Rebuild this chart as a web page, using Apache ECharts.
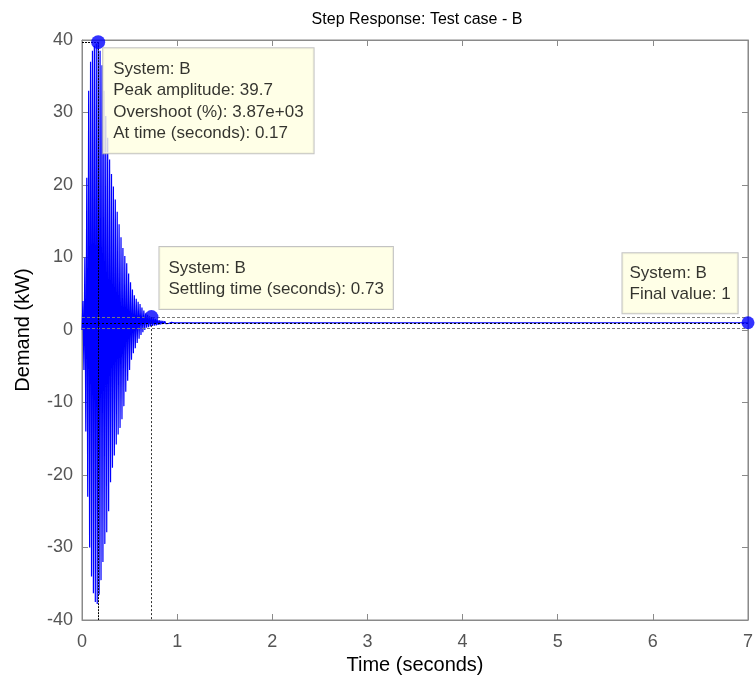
<!DOCTYPE html>
<html><head><meta charset="utf-8">
<script src="https://cdn.jsdelivr.net/npm/echarts@6/dist/echarts.min.js"></script>
<style>html,body{margin:0;padding:0;background:#fff;overflow:hidden}#c{width:756px;height:683px}</style>
</head><body><div id="c"></div>
<script>
const titleText = 'Step Response: Test case - B';
const xName = 'Time (seconds)';
const yName = 'Demand (kW)';
const xTicks = [0, 1, 2, 3, 4, 5, 6, 7];
const yTicks = [-40, -30, -20, -10, 0, 10, 20, 30, 40];
const sampleTime = 0.01;
// sampled response values, one per sample time
const response = [0, 4, -5.5, 10, -14, 21, -23, 33, -30, 37, -34, 38.5, -36.3, 39.2, -37.5, 39.5, -37.8, 39.7,
  -36.5, 38.5, -34.5, 36.5, -32, 33, -29.5, 29.5, -27.9, 26.5, -25, 23.5, -21, 21.5, -19, 19.8, -17.3, 18,
  -15.8, 16.3, -14.4, 14.6, -13.5, 12.8, -12.3, 11.3, -10.5, 10.2, -8.5, 9.2, -7, 7.8, -5.5, 6.6, -4.1, 5.6,
  -3.2, 4.8, -2.5, 4.3, -1.8, 3.9, -1.2, 3.6, -0.7, 3.1, -0.3, 2.7, 0, 2.3, 0.3, 2.1, 0.4, 1.9, 0.5, 1.78,
  0.55, 1.6, 0.6, 1.5, 0.65, 1.4, 0.7, 1.35, 0.75, 1.3, 0.8, 1.25, 0.85, 1.2, 0.88, 1.15, 0.9, 1.1, 0.93,
  1.05, 0.95, 1.02, 0.98, 1];
const finalTime = 7;
const finalValue = 1;
const peakTime = 0.17, peakValue = 39.7, overshoot = '3.87e+03';
const settlingTime = 0.73, settlingValue = 1.78;
const bandUpper = 1.78, bandLower = 0.22;

const data = response.map((v, i) => [+(i * sampleTime).toFixed(2), v]);
data.push([finalTime, finalValue]);

const FONT = 'Liberation Sans, Arial, sans-serif';
const boxLabel = {
  show: true,
  backgroundColor: '#ffffe1',
  borderColor: '#b4b4b4',
  borderWidth: 1,
  color: '#000',
  fontFamily: FONT,
  fontSize: 17,
  lineHeight: 21.5,
  align: 'left',
  verticalAlign: 'top'
};

const chart = echarts.init(document.getElementById('c'), null, {renderer: 'canvas'});
const axisLineStyle = {color: '#8a8a8a'};
chart.setOption({
  animation: false,
  title: {
    text: titleText, left: 412, top: 7, textAlign: 'center',
    textStyle: {fontFamily: FONT, fontSize: 16, fontWeight: 'normal', color: '#000'}
  },
  grid: {left: 82, right: 6.5, top: 40, bottom: 63, show: true, borderColor: '#8a8a8a', borderWidth: 1, backgroundColor: '#fff'},
  xAxis: [{
    type: 'value', min: xTicks[0], max: xTicks[xTicks.length - 1], interval: 1,
    name: xName, nameLocation: 'middle', nameGap: 35,
    nameTextStyle: {fontFamily: FONT, fontSize: 20, color: '#000'},
    axisLine: {show: true, onZero: false, lineStyle: axisLineStyle},
    axisTick: {show: true, inside: true, length: 6, lineStyle: axisLineStyle},
    axisLabel: {fontFamily: FONT, fontSize: 18, color: '#555', margin: 13},
    splitLine: {show: false}
  }, {
    type: 'value', position: 'top', min: xTicks[0], max: xTicks[xTicks.length - 1], interval: 1,
    axisLine: {show: true, onZero: false, lineStyle: axisLineStyle},
    axisTick: {show: true, inside: true, length: 6, lineStyle: axisLineStyle},
    axisLabel: {show: false}, splitLine: {show: false}
  }],
  yAxis: [{
    type: 'value', min: yTicks[0], max: yTicks[yTicks.length - 1], interval: 10,
    name: yName, nameLocation: 'middle', nameGap: 49,
    nameTextStyle: {fontFamily: FONT, fontSize: 20, color: '#000'},
    axisLine: {show: true, onZero: false, lineStyle: axisLineStyle},
    axisTick: {show: true, inside: true, length: 6, lineStyle: axisLineStyle},
    axisLabel: {fontFamily: FONT, fontSize: 18, color: '#555', margin: 9},
    splitLine: {show: false}
  }, {
    type: 'value', position: 'right', min: yTicks[0], max: yTicks[yTicks.length - 1], interval: 10,
    axisLine: {show: true, onZero: false, lineStyle: axisLineStyle},
    axisTick: {show: true, inside: true, length: 6, lineStyle: axisLineStyle},
    axisLabel: {show: false}, splitLine: {show: false}
  }],
  series: [{
    type: 'line', data: data, step: 'end', showSymbol: false, z: 2,
    lineStyle: {color: '#0000ff', width: 1.2},
    markLine: {
      silent: true, symbol: 'none', label: {show: false},
      data: [
        [{coord: [0, bandUpper], lineStyle: {color: '#7a7a7a', type: [3, 2], width: 1}}, {coord: [finalTime, bandUpper]}],
        [{coord: [0, bandLower], lineStyle: {color: '#7a7a7a', type: [3, 2], width: 1}}, {coord: [finalTime, bandLower]}],
        [{coord: [0, finalValue], lineStyle: {color: '#000', type: [2, 2], width: 1}}, {coord: [finalTime, finalValue]}],
        [{coord: [peakTime, peakValue], lineStyle: {color: '#000', type: [2, 1], width: 1}}, {coord: [peakTime, yTicks[0]]}],
        [{coord: [0, peakValue], lineStyle: {color: '#000', type: [2, 1], width: 1}}, {coord: [peakTime, peakValue]}],
        [{coord: [settlingTime, settlingValue], lineStyle: {color: '#333', type: [2, 2], width: 1}}, {coord: [settlingTime, yTicks[0]]}]
      ]
    }
  }, {
    type: 'scatter', z: 5, symbol: 'circle', symbolSize: 14,
    itemStyle: {color: '#0000ff'},
    data: [
      {value: [peakTime, peakValue], label: Object.assign({}, boxLabel, {
        position: [12, 13], padding: [10, 10, 9, 10],
        formatter: 'System: B\nPeak amplitude: ' + peakValue + '\nOvershoot (%): ' + overshoot + '\nAt time (seconds): ' + peakTime})},
      {value: [settlingTime, settlingValue], label: Object.assign({}, boxLabel, {
        position: [15, -63], padding: [10, 9, 9, 9],
        formatter: 'System: B\nSettling time (seconds): ' + settlingTime})},
      {value: [finalTime, finalValue], symbolSize: 13, label: Object.assign({}, boxLabel, {
        position: [-119, -63], padding: [9, 7, 8, 7],
        formatter: 'System: B\nFinal value: ' + finalValue})}
    ]
  }]
});
</script></body></html>
